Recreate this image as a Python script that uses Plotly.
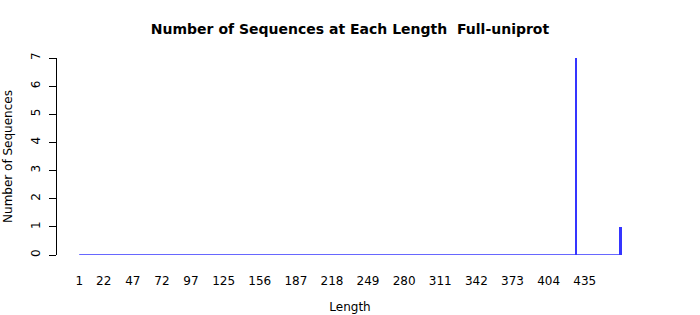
import plotly.graph_objects as go

# Data
min_length = 1
max_length = 466
bar_lengths = [428, 466]
bar_counts = [7, 1]
tick_labels = [1, 22, 47, 72, 97, 125, 156, 187, 218, 249, 280, 311, 342, 373, 404, 435]

blue = "#3535ff"

fig = go.Figure()
# zero-height bars baseline (all lengths between min and max with count 0)
fig.add_trace(go.Scatter(
    x=[min_length, max_length], y=[0, 0], mode="lines",
    line=dict(color=blue, width=1.5), hoverinfo="skip", showlegend=False))
fig.add_trace(go.Bar(
    x=bar_lengths, y=bar_counts, width=1.5,
    marker=dict(color=blue, line=dict(width=0)), showlegend=False))

fig.update_layout(
    width=700, height=315,
    margin=dict(l=57, r=57, t=58, b=60, autoexpand=False),
    plot_bgcolor="white", paper_bgcolor="white",
    font=dict(family="DejaVu Sans", size=12, color="black"),
    title=dict(text="<b>Number of Sequences at Each Length  Full-uniprot</b>",
               x=0.5, xanchor="center", y=0.908, yanchor="middle",
               font=dict(size=14)),
    bargap=0,
)
fig.update_xaxes(
    range=[-18.05, 485.05], showline=False, showgrid=False, zeroline=False,
    automargin=False,
    tickmode="array", tickvals=tick_labels, ticktext=[str(v) for v in tick_labels],
    ticks="", ticklabelstandoff=17, tickfont=dict(size=12),
    title=dict(text="Length", standoff=15, font=dict(size=12)),
)
fig.update_yaxes(
    range=[0, 7], showline=True, linecolor="black", linewidth=1,
    automargin=False,
    showgrid=False, zeroline=False, ticks="outside", ticklen=7, tickcolor="black",
    dtick=1, tickangle=-90, tickfont=dict(size=12), ticklabelstandoff=4,
    title=dict(text="Number of Sequences", standoff=14, font=dict(size=12)),
)

fig.write_html("out.html")
